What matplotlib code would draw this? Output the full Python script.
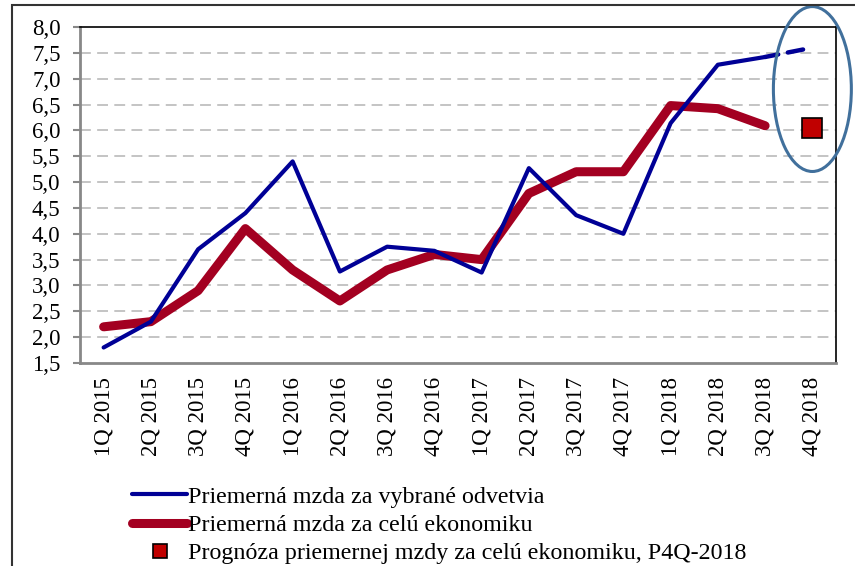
import numpy as np
import matplotlib.pyplot as plt
from matplotlib.patches import Ellipse, Rectangle
from matplotlib.ticker import MultipleLocator, FuncFormatter

plt.rcParams['font.family'] = 'Liberation Serif'

quarters = ['1Q 2015', '2Q 2015', '3Q 2015', '4Q 2015', '1Q 2016', '2Q 2016',
            '3Q 2016', '4Q 2016', '1Q 2017', '2Q 2017', '3Q 2017', '4Q 2017',
            '1Q 2018', '2Q 2018', '3Q 2018', '4Q 2018']
vybrane = [1.8, 2.3, 3.7, 4.4, 5.4, 3.27, 3.75, 3.67, 3.25, 5.27, 4.36, 4.0,
           6.14, 7.27, 7.42]
vybrane_4q = 7.6
celkovo = [2.2, 2.3, 2.9, 4.1, 3.3, 2.7, 3.3, 3.6, 3.5, 4.78, 5.2, 5.2,
           6.48, 6.42, 6.09]
prognoza = 6.05

blue = '#000096'
red = '#A30021'

fig = plt.figure(figsize=(8.55, 5.66), dpi=100)
ax = fig.add_axes([80 / 855, 1 - 363 / 566, 756 / 855, 336 / 566])

x = np.arange(len(quarters))
n = len(vybrane)

ax.plot(x[:n], vybrane, color=blue, lw=3, solid_capstyle='round',
        label='Priemerná mzda za vybrané odvetvia', zorder=4)
ax.plot([x[n - 1], x[n]], [vybrane[-1], vybrane_4q], color=blue, lw=3.2,
        dashes=(3, 2.2, 3.5, 2.2, 0.5, 3), dash_capstyle='round', zorder=4)
ax.plot(x[:n], celkovo, color=red, lw=6.5, solid_capstyle='round',
        label='Priemerná mzda za celú ekonomiku', zorder=3)
ax.plot([x[n]], [prognoza], ls='none', marker='s', ms=15, mfc='#C00000',
        mec='black', mew=1.2, zorder=5,
        label='Prognóza priemernej mzdy za celú ekonomiku, P4Q-2018')

ax.set_xlim(-0.5, len(quarters) - 0.5)
ax.set_ylim(1.5, 8.0)
ax.yaxis.set_major_locator(MultipleLocator(0.5))
ax.yaxis.set_major_formatter(FuncFormatter(lambda v, p: f'{v:.1f}'.replace('.', ',')))
ax.set_xticks(x)
ax.set_xticklabels(quarters, rotation=90, fontsize=16.5)
ax.tick_params(axis='y', labelsize=16.5, length=5, width=1.5, color='#888888', pad=9)
ax.tick_params(axis='x', length=0, pad=10)

for v in np.arange(2.0, 8.0, 0.5):
    ax.axhline(v, color='#BFBFBF', lw=1.3, dashes=(6, 3.5), zorder=1)

ax.spines['left'].set_color('#888888')
ax.spines['left'].set_linewidth(2)
ax.spines['bottom'].set_color('#888888')
ax.spines['bottom'].set_linewidth(2)
ax.spines['top'].set_color('black')
ax.spines['top'].set_linewidth(1.2)
ax.spines['right'].set_color('black')
ax.spines['right'].set_linewidth(1.2)

ell = Ellipse((x[n], 6.8), 1.65, 3.19, fill=False, ec='#41709C', lw=2.2,
              clip_on=False, zorder=6)
ax.add_patch(ell)

# outer frame
fig.add_artist(Rectangle((12 / 855, -0.1), 1.0, 1 - 5 / 566 + 0.1,
                         transform=fig.transFigure, fill=False,
                         ec='#333333', lw=1.5))

leg = fig.legend(loc='upper left', bbox_to_anchor=(132 / 855, 1 - 486 / 566),
                 frameon=False, fontsize=17.3, handlelength=2.3,
                 handletextpad=0.05, labelspacing=0.27, borderpad=0,
                 borderaxespad=0, markerscale=0.7)

fig.savefig('out.png', dpi=100)
